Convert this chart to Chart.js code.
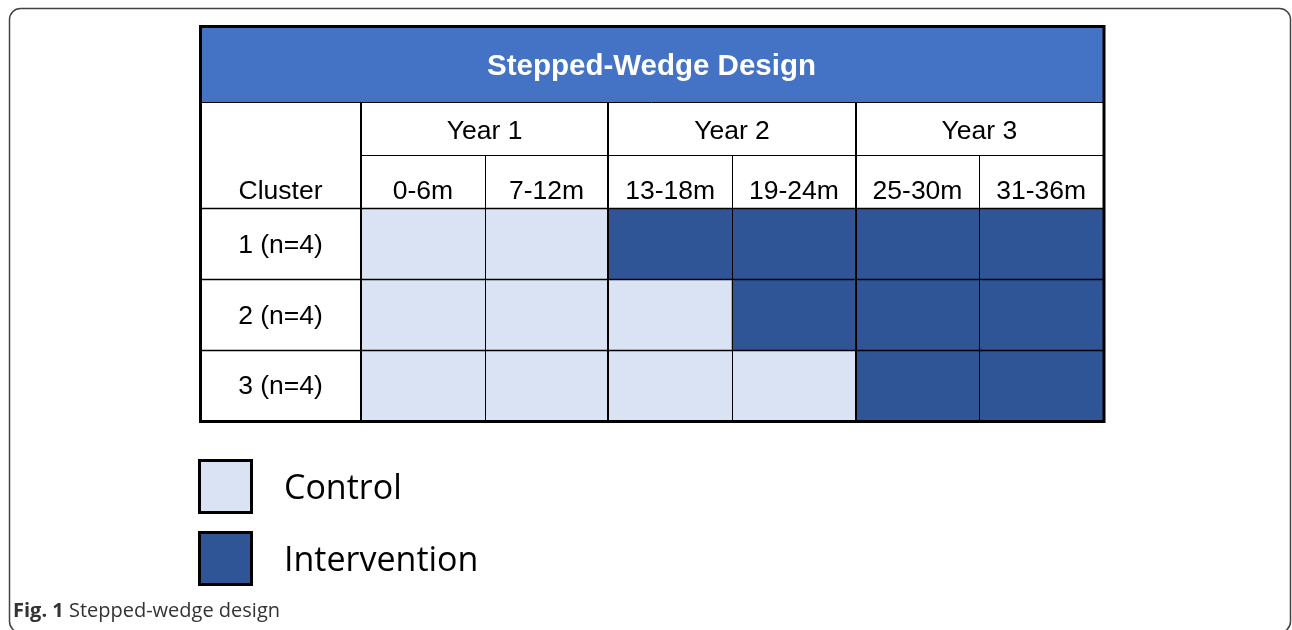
<!DOCTYPE html>
<html>
<head>
<meta charset="utf-8">
<script src="https://cdn.jsdelivr.net/npm/chart.js@4.4.1/dist/chart.umd.min.js"></script>
<style>
  html, body { margin: 0; padding: 0; background: #ffffff; }
  #wrap { width: 1292px; height: 630px; position: relative; }
</style>
</head>
<body>
<div id="wrap"><canvas id="c" width="1292" height="630"></canvas></div>
<script>
// ---- data ----
const title = 'Stepped-Wedge Design';
const years = ['Year 1', 'Year 2', 'Year 3'];
const periodsPerYear = [2, 2, 2];
const periods = ['0-6m', '7-12m', '13-18m', '19-24m', '25-30m', '31-36m'];
const clusters = ['1 (n=4)', '2 (n=4)', '3 (n=4)'];
const clusterHeader = 'Cluster';
// period index at which each cluster crosses over to intervention
const crossoverPeriod = [2, 3, 4];
const legendLabels = ['Control', 'Intervention'];
const captionBold = 'Fig. 1';
const captionText = ' Stepped-wedge design';

// ---- styles ----
const CONTROL = '#DAE3F3';
const INTERVENTION = '#2F5597';
const HEADER = '#4472C4';
const TABLE_FONT = '"Liberation Sans", Arial, sans-serif';
const TEXT_FONT = '"Open Sans", "Noto Sans", sans-serif';

const datasets = clusters.map((name, k) => ({
  label: name,
  data: periods.map(() => [k, k + 1]),
  backgroundColor: periods.map((p, i) => i >= crossoverPeriod[k] ? INTERVENTION : CONTROL),
  borderWidth: 0,
  barPercentage: 1,
  categoryPercentage: 1,
  grouped: false
}));

const tablePlugin = {
  id: 'tablePlugin',
  beforeDraw(chart) {
    const ctx = chart.ctx;
    ctx.save();
    ctx.fillStyle = '#ffffff';
    ctx.fillRect(0, 0, chart.width, chart.height);
    // outer frame
    ctx.strokeStyle = '#444444';
    ctx.lineWidth = 1.5;
    ctx.beginPath();
    ctx.roundRect(9.5, 8.5, 1281, 624, 11);
    ctx.stroke();
    ctx.restore();
  },
  afterDatasetsDraw(chart) {
    const ctx = chart.ctx;
    const x = chart.scales.x, y = chart.scales.y;
    const ca = chart.chartArea;
    const tableLeft = 200, tableRight = ca.right;
    const headTop = 26, headBottom = 102, yearBottom = 155, periodBottom = ca.top;
    const colEdge = i => i === 0 ? ca.left : (i === periods.length ? ca.right : (x.getPixelForValue(i - 1) + x.getPixelForValue(i)) / 2);

    ctx.save();
    // header bar
    ctx.fillStyle = HEADER;
    ctx.fillRect(tableLeft, headTop, tableRight - tableLeft, headBottom - headTop);
    ctx.fillStyle = '#ffffff';
    ctx.font = 'bold 29.5px ' + TABLE_FONT;
    ctx.textAlign = 'center';
    ctx.textBaseline = 'middle';
    ctx.fillText(title, (tableLeft + tableRight) / 2, (headTop + headBottom) / 2 + 3);

    // text in table
    ctx.fillStyle = '#000000';
    ctx.font = '26.5px ' + TABLE_FONT;
    let start = 0;
    years.forEach((yr, j) => {
      const a = colEdge(start), b = colEdge(start + periodsPerYear[j]);
      ctx.fillText(yr, (a + b) / 2, (headBottom + yearBottom) / 2 + 3.5);
      start += periodsPerYear[j];
    });
    periods.forEach((p, i) => {
      ctx.fillText(p, x.getPixelForValue(i), 191.5);
    });
    ctx.fillText(clusterHeader, (tableLeft + ca.left) / 2, 191.5);
    clusters.forEach((c, k) => {
      ctx.fillText(c, (tableLeft + ca.left) / 2, y.getPixelForValue(k + 0.5) + 2);
    });

    // grid lines
    ctx.strokeStyle = '#000000';
    const hline = (yy, x0, x1, w) => { ctx.lineWidth = w; ctx.beginPath(); ctx.moveTo(x0, yy); ctx.lineTo(x1, yy); ctx.stroke(); };
    const vline = (xx, y0, y1, w) => { ctx.lineWidth = w; ctx.beginPath(); ctx.moveTo(xx, y0); ctx.lineTo(xx, y1); ctx.stroke(); };
    hline(headBottom + 0.5, tableLeft, tableRight, 1);
    hline(yearBottom + 0.5, ca.left, tableRight, 1);
    hline(periodBottom - 0.5, tableLeft, tableRight, 1.5);
    for (let k = 1; k < clusters.length; k++) {
      hline(Math.round(y.getPixelForValue(k)) + 0.5, tableLeft, tableRight, 1.5);
    }
    // column separators
    const yearStarts = new Set([0]);
    let acc = 0;
    periodsPerYear.forEach(n => { acc += n; yearStarts.add(acc); });
    for (let i = 0; i < periods.length; i++) {
      const xx = Math.round(colEdge(i));
      if (yearStarts.has(i)) vline(xx, headBottom, ca.bottom, 2);
      else vline(xx + 0.5, yearBottom, ca.bottom, 1);
    }
    // outer border
    ctx.lineWidth = 3;
    ctx.strokeRect(tableLeft + 0.5, headTop + 0.5, ca.right + 1 - (tableLeft + 0.5), ca.bottom + 1.5 - (headTop + 0.5));

    // legend
    const colors = [CONTROL, INTERVENTION];
    const boxTops = [460, 532];
    legendLabels.forEach((lab, i) => {
      ctx.fillStyle = colors[i];
      ctx.fillRect(199, boxTops[i], 53, 53);
      ctx.lineWidth = 3;
      ctx.strokeStyle = '#000000';
      ctx.strokeRect(199.5, boxTops[i] + 0.5, 52, 52);
      ctx.fillStyle = '#000000';
      ctx.font = '34px ' + TEXT_FONT;
      ctx.textAlign = 'left';
      ctx.textBaseline = 'middle';
      ctx.fillText(lab, 284, boxTops[i] + 29.5);
    });

    // caption
    ctx.fillStyle = '#333333';
    ctx.textAlign = 'left';
    ctx.textBaseline = 'middle';
    ctx.font = 'bold 20px ' + TEXT_FONT;
    ctx.fillText(captionBold, 13, 611);
    const w = ctx.measureText(captionBold).width;
    ctx.font = '20px ' + TEXT_FONT;
    ctx.fillText(captionText, 13 + w, 611);
    ctx.restore();
  }
};

new Chart(document.getElementById('c'), {
  type: 'bar',
  data: { labels: periods, datasets },
  options: {
    responsive: false,
    animation: false,
    events: [],
    layout: { padding: { left: 361, right: 1292 - 1103, top: 209, bottom: 630 - 420 } },
    plugins: { legend: { display: false }, tooltip: { enabled: false }, title: { display: false } },
    scales: {
      x: { type: 'category', display: false, offset: true, grid: { display: false } },
      y: { type: 'linear', display: false, min: 0, max: clusters.length, reverse: true }
    }
  },
  plugins: [tablePlugin]
});
</script>
</body>
</html>
